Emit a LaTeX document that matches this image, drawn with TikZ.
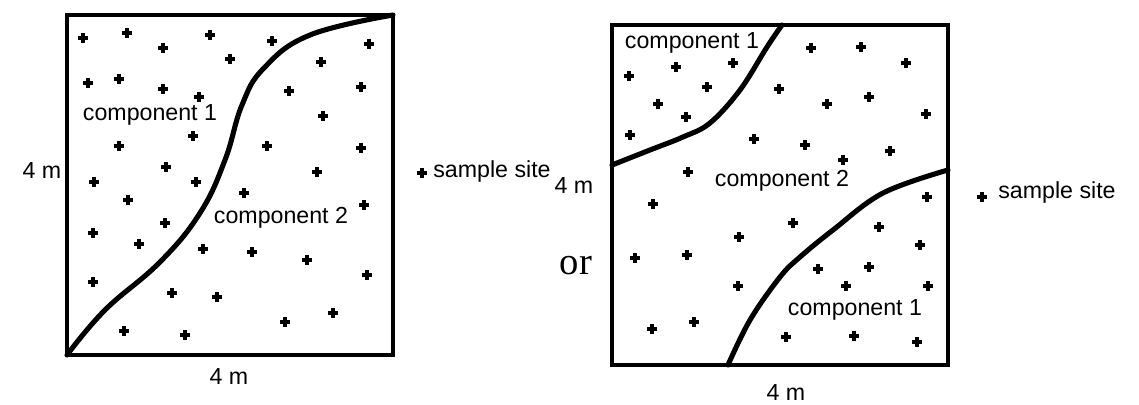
\documentclass[tikz,border=0pt]{standalone}
\usepackage{fontspec}
\setmainfont{Liberation Sans}
\newfontfamily\orfont{Liberation Serif}
\usetikzlibrary{positioning}

\tikzset{
  site/.pic={\fill (-5,-2.4) rectangle (5,2.4); \fill (-2.4,-5) rectangle (2.4,5);},
  plotbox/.style={line width=2.8pt},
  border/.style={line width=2.9pt, line cap=round},
  lbl/.style={font=\fontsize{13.2}{15}\selectfont, inner sep=0pt}
}

\begin{document}
\begin{tikzpicture}[x=0.02cm, y=-0.02cm]
\useasboundingbox (0,0) rectangle (1139,405);

% left plot
\draw[plotbox] (67,15) rectangle (393,355);
\draw[border] plot[smooth, tension=0.7] coordinates {(67,355) (105,310) (160,262) (200,213) (225,160) (242,105) (264,68) (310,35) (393,15)};
\foreach \px/\py in {83/38, 127/33, 163/48, 210/35, 272/41, 230/59, 369/44, 321/62,
  88/83, 119/79, 163/89, 199/97, 289/91, 361/87, 323/116,
  193/136, 119/146, 267/146, 361/148, 166/167, 317/172,
  94/182, 196/182, 244/193, 128/200, 364/205,
  165/223, 93/233, 139/244, 203/249, 252/252, 307/260, 367/275,
  93/282, 172/293, 217/297, 285/322, 333/313, 124/331, 185/335}
  \pic at (\px,\py) {site};
\node[lbl] (compA) at (150,115) {component 1};
\node[lbl] (compB) at (281,218) {component 2};
\node[lbl] (sideA) at (42,171) {4 m};
\node[lbl] (baseA) at (229,377) {4 m};
\pic at (422,173) {site};
\node[lbl, anchor=west] (keyA) at (433,172) {sample site};

% right plot
\node[lbl] (sideB) at (574,186) {4 m};
\node[font=\orfont\fontsize{22}{24}\selectfont, inner sep=0pt] (or) at (576,266) {or};
\draw[plotbox] (612,25) rectangle (948,365);
\draw[border] plot[smooth, tension=0.6] coordinates {(782,25) (767,47) (740,90) (710,123) (683,137) (650,150) (612,165)};
\draw[border] plot[smooth, tension=0.6] coordinates {(728,365) (750,320) (780,277) (800,257) (833,230) (883,193) (948,170)};
\foreach \px/\py in {629/76, 676/67, 733/63, 707/87, 658/104, 686/117, 630/135,
  811/48, 861/47, 906/63, 779/89, 827/104, 869/97, 926/114,
  754/139, 805/145, 843/160, 890/151, 688/172,
  653/204, 927/197, 793/223, 739/237, 879/227, 635/258, 687/255, 920/245,
  818/269, 869/267, 738/286, 846/286, 928/286,
  652/329, 694/322, 786/337, 854/336, 917/342}
  \pic at (\px,\py) {site};
\node[lbl] (compC) at (692,43) {component 1};
\node[lbl] (compD) at (782,181) {component 2};
\node[lbl] (compE) at (855,310) {component 1};
\node[lbl] (baseB) at (786,393) {4 m};
\pic at (982,197) {site};
\node[lbl, anchor=west] (keyB) at (998,193) {sample site};
\end{tikzpicture}
\end{document}
